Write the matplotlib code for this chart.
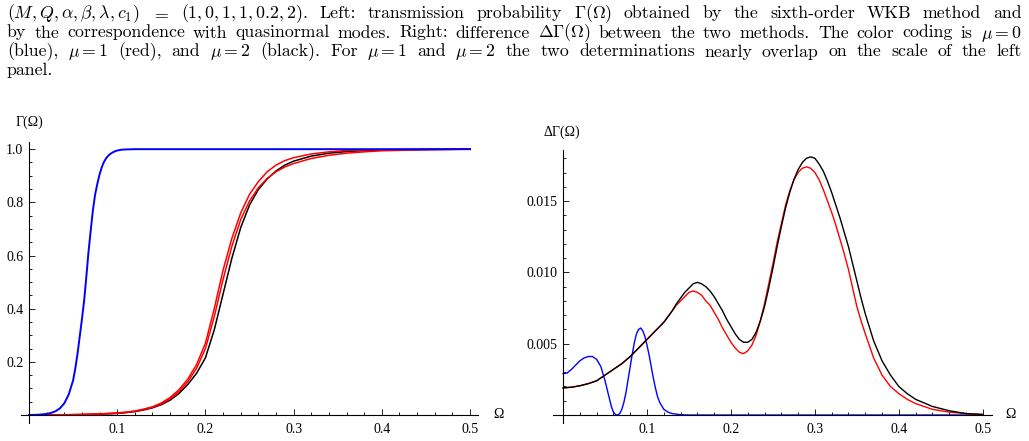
import re
import matplotlib
matplotlib.use('Agg')
import matplotlib.pyplot as plt
from matplotlib.ticker import FixedLocator

plt.rcParams['mathtext.fontset'] = 'cm'
plt.rcParams['axes.unicode_minus'] = False

# caption lines (justified, last one left)
caption = [
    r"$(M,Q,\alpha,\beta,\lambda,c_1)$ $=$ $(1,0,1,1,0.2,2)$. Left: transmission probability $\Gamma(\Omega)$ obtained by the sixth-order WKB method and",
    r"by the correspondence with quasinormal modes. Right: difference $\Delta\Gamma(\Omega)$ between the two methods. The color coding is $\mu = 0$",
    r"(blue), $\mu = 1$ (red), and $\mu = 2$ (black). For $\mu = 1$ and $\mu = 2$ the two determinations nearly overlap on the scale of the left",
    r"panel.",
]

# ---- left panel: transmission probability ----
omega_blue_l = [0, 0.01, 0.02, 0.025, 0.03, 0.035, 0.04, 0.045, 0.05, 0.0525, 0.055, 0.0575,
                0.06, 0.0625, 0.065, 0.0675, 0.07, 0.0725, 0.075, 0.0775, 0.08, 0.0825, 0.085,
                0.0875, 0.09, 0.0925, 0.095, 0.0975, 0.1, 0.105, 0.11, 0.12, 0.15, 0.2, 0.3,
                0.4, 0.5]
gamma_blue = [0.0, 0.001, 0.004, 0.008, 0.014, 0.025, 0.044, 0.077, 0.13, 0.175, 0.23, 0.295,
              0.36, 0.43, 0.52, 0.615, 0.695, 0.772, 0.83, 0.87, 0.905, 0.932, 0.952, 0.966,
              0.976, 0.983, 0.988, 0.992, 0.995, 0.998, 0.999, 1.0, 1.0, 1.0, 1.0, 1.0, 1.0]

omega_rb_l = [0, 0.02, 0.04, 0.06, 0.08, 0.1, 0.11, 0.12, 0.13, 0.14, 0.15, 0.16, 0.17, 0.18,
              0.19, 0.2, 0.21, 0.22, 0.23, 0.24, 0.25, 0.26, 0.27, 0.28, 0.29, 0.3, 0.32,
              0.34, 0.36, 0.38, 0.4, 0.45, 0.5]
gamma_red_a = [0.0, 0.0005, 0.001, 0.002, 0.004, 0.008, 0.011, 0.015, 0.022, 0.031, 0.045,
               0.066, 0.095, 0.135, 0.19, 0.27, 0.40, 0.545, 0.665, 0.76, 0.83, 0.878, 0.915,
               0.94, 0.957, 0.968, 0.982, 0.99, 0.995, 0.997, 0.998, 0.999, 1.0]
gamma_red_b = [0.0, 0.0005, 0.001, 0.002, 0.004, 0.007, 0.010, 0.014, 0.021, 0.029, 0.042,
               0.061, 0.088, 0.125, 0.176, 0.25, 0.37, 0.51, 0.635, 0.735, 0.805, 0.855, 0.89,
               0.915, 0.933, 0.946, 0.965, 0.977, 0.985, 0.99, 0.994, 0.998, 1.0]
gamma_black = [0.0, 0.0004, 0.0008, 0.0015, 0.003, 0.006, 0.009, 0.013, 0.019, 0.027, 0.039,
               0.056, 0.081, 0.115, 0.157, 0.215, 0.32, 0.455, 0.59, 0.705, 0.79, 0.848, 0.888,
               0.918, 0.94, 0.955, 0.974, 0.985, 0.991, 0.995, 0.997, 0.999, 1.0]

# ---- right panel: difference between the two methods ----
omega_blue_r = [0, 0.005, 0.01, 0.015, 0.02, 0.025, 0.03, 0.035, 0.04, 0.045, 0.05, 0.0525,
                0.055, 0.0575, 0.06, 0.0625, 0.065, 0.0675, 0.07, 0.0725, 0.075, 0.0775, 0.08,
                0.0825, 0.085, 0.0875, 0.09, 0.0925, 0.095, 0.0975, 0.1, 0.1025, 0.105, 0.1075,
                0.11, 0.1125, 0.115, 0.12, 0.125, 0.13, 0.14, 0.15, 0.2, 0.3, 0.4, 0.5]
dgamma_blue = [0.0029, 0.00295, 0.0032, 0.0035, 0.0038, 0.004, 0.0041, 0.0041, 0.0039, 0.0034,
               0.0024, 0.0018, 0.0012, 0.0006, 0.0002, 0.00003, 0.0, 0.0001, 0.0004, 0.0009,
               0.0016, 0.0025, 0.0034, 0.0043, 0.0051, 0.0057, 0.006, 0.0061, 0.0059, 0.0055,
               0.0049, 0.0042, 0.0034, 0.0026, 0.0019, 0.0013, 0.0009, 0.0004, 0.0002, 0.0001,
               0.00002, 0.0, 0.0, 0.0, 0.0, 0.0]

omega_rb_r = [0, 0.01, 0.02, 0.03, 0.04, 0.05, 0.06, 0.07, 0.08, 0.09, 0.1, 0.11, 0.12,
              0.125, 0.13, 0.135, 0.14, 0.145, 0.15, 0.155, 0.16, 0.165, 0.17, 0.175, 0.18,
              0.185, 0.19, 0.195, 0.2, 0.205, 0.21, 0.215, 0.22, 0.225, 0.23, 0.235, 0.24,
              0.245, 0.25, 0.255, 0.26, 0.265, 0.27, 0.275, 0.28, 0.285, 0.29, 0.295, 0.3,
              0.305, 0.31, 0.315, 0.32, 0.325, 0.33, 0.335, 0.34, 0.345, 0.35, 0.355, 0.36,
              0.37, 0.38, 0.39, 0.4, 0.41, 0.42, 0.44, 0.46, 0.48, 0.5]
dgamma_red = [0.0019, 0.00195, 0.00205, 0.0022, 0.0024, 0.0028, 0.0032, 0.0036, 0.0041, 0.0047,
              0.0053, 0.0059, 0.0065, 0.0069, 0.0073, 0.0077, 0.0080, 0.0083, 0.0086, 0.0087,
              0.0086, 0.0084, 0.0080, 0.0077, 0.0072, 0.0067, 0.0061, 0.0056, 0.0051, 0.0047,
              0.0044, 0.0043, 0.0045, 0.0049, 0.0056, 0.0066, 0.0078, 0.0092, 0.0106, 0.0121,
              0.0134, 0.0147, 0.0157, 0.0165, 0.0170, 0.0173, 0.0174, 0.0173, 0.0170, 0.0165,
              0.0158, 0.0150, 0.0142, 0.0133, 0.0123, 0.0113, 0.0102, 0.0089, 0.0076, 0.0066,
              0.0057, 0.0040, 0.0028, 0.0020, 0.0015, 0.0011, 0.0008, 0.0004, 0.0002, 0.0001,
              0.00003]
dgamma_black = [0.0019, 0.00195, 0.00205, 0.0022, 0.0024, 0.0028, 0.0032, 0.0036, 0.0041, 0.0047,
                0.0053, 0.0059, 0.0065, 0.0069, 0.0073, 0.0078, 0.0082, 0.0086, 0.0089, 0.0092,
                0.0093, 0.0092, 0.0090, 0.0087, 0.0083, 0.0078, 0.0073, 0.0067, 0.0062, 0.0057,
                0.0053, 0.0051, 0.0051, 0.0053, 0.0058, 0.0066, 0.0076, 0.0089, 0.0103, 0.0118,
                0.0132, 0.0145, 0.0156, 0.0165, 0.0172, 0.0177, 0.0180, 0.0181, 0.0180, 0.0176,
                0.0171, 0.0164, 0.0156, 0.0147, 0.0138, 0.0128, 0.0118, 0.0106, 0.0094, 0.0082,
                0.0071, 0.0052, 0.0038, 0.0028, 0.0020, 0.0015, 0.0011, 0.0006, 0.0003, 0.0001,
                0.00004]

x_ticks = [0.1, 0.2, 0.3, 0.4, 0.5]
x_ticklabels = ["0.1", "0.2", "0.3", "0.4", "0.5"]
yl_ticks = [0.2, 0.4, 0.6, 0.8, 1.0]
yl_ticklabels = ["0.2", "0.4", "0.6", "0.8", "1.0"]
yr_ticks = [0.005, 0.010, 0.015]
yr_ticklabels = ["0.005", "0.010", "0.015"]

W, H = 1029, 441
tick_font = 'Liberation Serif'
cap_font = ['cmr10', 'DejaVu Serif']

fig = plt.figure(figsize=(W / 100, H / 100), dpi=100)


def px_axes(x0, y0, x1, y1):
    # pixel box (top-left origin) -> figure axes
    return fig.add_axes([x0 / W, 1 - y1 / H, (x1 - x0) / W, (y1 - y0) / H])


def style_axes(ax, xlim, ylim, yticks, yticklabels, yminor):
    ax.set_xlim(*xlim)
    ax.set_ylim(*ylim)
    for s in ['top', 'right']:
        ax.spines[s].set_visible(False)
    for s in ['left', 'bottom']:
        ax.spines[s].set_position(('data', 0))
        ax.spines[s].set_linewidth(0.8)
    ax.set_xticks(x_ticks)
    ax.set_xticklabels(x_ticklabels)
    ax.set_yticks(yticks)
    ax.set_yticklabels(yticklabels)
    ax.xaxis.set_minor_locator(FixedLocator([i * 0.02 for i in range(1, 26) if i % 5]))
    ax.yaxis.set_minor_locator(FixedLocator(yminor))
    ax.tick_params(which='both', direction='in', width=0.6, labelsize=10)
    ax.tick_params(which='major', length=4.0)
    ax.tick_params(which='minor', length=2.2)
    ax.tick_params(axis='x', pad=5.5)
    ax.tick_params(axis='y', pad=4)
    for lab in ax.get_xticklabels() + ax.get_yticklabels():
        lab.set_family(tick_font)
    ax.patch.set_alpha(0)


# left panel
ax1 = px_axes(20.7, 142, 478, 423)
ax1.plot(omega_rb_l, gamma_black, color='black', lw=1.1)
ax1.plot(omega_rb_l, gamma_red_b, color='red', lw=1.1)
ax1.plot(omega_rb_l, gamma_red_a, color='red', lw=1.1)
ax1.plot(omega_blue_l, gamma_blue, color='blue', lw=1.4)
style_axes(ax1, (-0.0094, 0.509), (-0.030, 1.027), yl_ticks, yl_ticklabels,
           [i * 0.05 for i in range(1, 21) if i % 4])

# right panel
ax2 = px_axes(553, 150, 992, 423)
ax2.plot(omega_blue_r, dgamma_blue, color='blue', lw=1.0)
ax2.plot(omega_rb_r, dgamma_red, color='red', lw=1.0)
ax2.plot(omega_rb_r, dgamma_black, color='black', lw=1.0)
style_axes(ax2, (-0.012, 0.511), (-0.00056, 0.01858), yr_ticks, yr_ticklabels,
           [i * 0.001 for i in range(1, 19) if i % 5])

# axis labels
fig.text(29 / W, 1 - 122 / H, "Γ(Ω)", family=tick_font, fontsize=10, ha='center', va='center')
fig.text(562 / W, 1 - 132 / H, "ΔΓ(Ω)", family=tick_font, fontsize=10, ha='center', va='center')
fig.text(498 / W, 1 - 414 / H, "Ω", family=tick_font, fontsize=10, ha='center', va='center')
fig.text(1010 / W, 1 - 414 / H, "Ω", family=tick_font, fontsize=10, ha='center', va='center')

# caption, justified between x0 and x1
renderer = fig.canvas.get_renderer()
x_left, x_right = 7, 1021.5
baselines = [18, 37.5, 56.5, 75.5]
for i, line in enumerate(caption):
    words = re.findall(r'(?:\$[^$]*\$|[^\s$])+', line)
    ts = [fig.text(0, 1 - baselines[i] / H, w, family=cap_font, fontsize=12.8, va='baseline')
          for w in words]
    widths = [t.get_window_extent(renderer).width for t in ts]
    if i < len(caption) - 1 and len(words) > 1:
        gap = (x_right - x_left - sum(widths)) / (len(words) - 1)
    else:
        gap = 5
    x = x_left
    for t, w in zip(ts, widths):
        t.set_x(x / W)
        x += w + gap

fig.savefig('out.png', dpi=100)
